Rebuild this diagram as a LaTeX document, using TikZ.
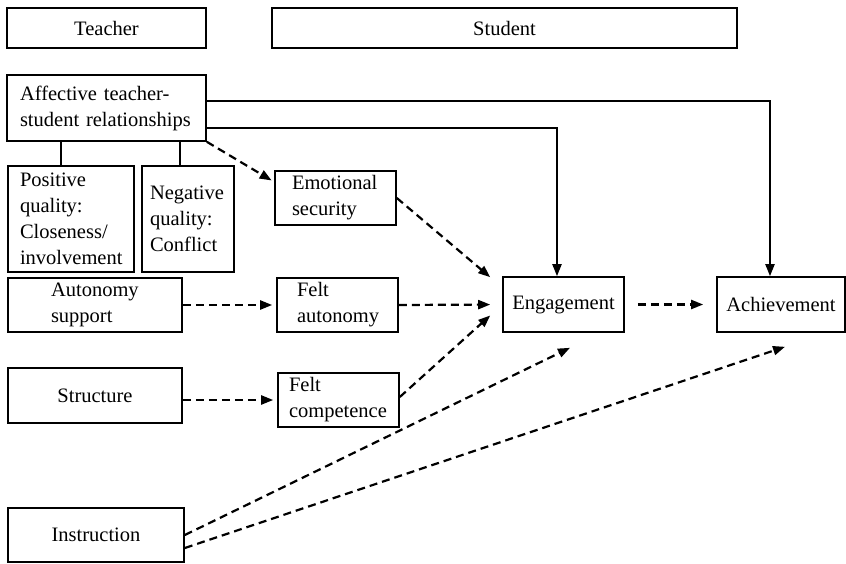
\documentclass[tikz,border=0pt]{standalone}
\usepackage{fontspec}
\setmainfont{Liberation Serif}
\usetikzlibrary{arrows.meta}
\hyphenpenalty=10000
\exhyphenpenalty=10000
\tikzset{
  box/.style={draw, line width=1.6pt, align=left, inner ysep=0pt,
    font=\fontsize{20.5}{26}\selectfont},
  cbox/.style={box, align=center},
  solidarrow/.style={line width=2pt, -{Triangle[length=12pt,width=9pt]}},
  dasharrow/.style={line width=2.2pt, dash pattern=on 8pt off 5pt, -{Triangle[length=12pt,width=9pt]}},
  link/.style={line width=1.6pt}
}
\begin{document}
\begin{tikzpicture}[x=1pt,y=-1pt]
\useasboundingbox (0,0) rectangle (846,564);
\node[cbox, minimum width=199pt, minimum height=40pt, inner xsep=0pt] (teacher) at (106.5,28) {Teacher};
\node[cbox, minimum width=465pt, minimum height=40pt, inner xsep=0pt] (student) at (504.5,28) {Student};
\node[box, inner xsep=13pt, text width=173pt, minimum height=66pt] (aff) at (106.5,108) {Affective teacher-\\student relationships};
\node[box, inner xsep=12pt, text width=102pt, minimum height=106pt] (pos) at (71,219) {Positive\\quality:\\Closeness/\\involvement};
\node[box, inner xsep=8pt, text width=76pt, minimum height=106pt] (neg) at (188,219) {Negative\\quality:\\Conflict};
\node[box, inner xsep=17pt, text width=87pt, minimum height=54pt] (emo) at (335.5,198) {Emotional\\security};
\node[box, inner xsep=43pt, text width=88pt, minimum height=54pt] (autosup) at (95,305) {Autonomy\\support};
\node[box, inner xsep=20pt, text width=81pt, minimum height=54pt] (feltaut) at (337.5,305) {Felt\\autonomy};
\node[cbox, minimum width=174pt, minimum height=55pt, inner xsep=0pt] (struct) at (95,395.5) {Structure};
\node[box, inner xsep=11pt, text width=99pt, minimum height=54pt] (feltcomp) at (338.5,400) {Felt\\competence};
\node[cbox, minimum width=121pt, minimum height=55pt, inner xsep=0pt] (eng) at (563.5,304.5) {Engagement};
\node[cbox, minimum width=128pt, minimum height=55pt, inner xsep=0pt] (ach) at (781,304.5) {Achievement};
\node[cbox, minimum width=176pt, minimum height=54pt, inner xsep=0pt] (instr) at (96,535) {Instruction};
% links to sub-boxes
\draw[link] (aff.south -| pos.north) ++(-10pt,0) coordinate (p1) -- (p1 |- pos.north);
\draw[link] (aff.south -| neg.north) ++(-8pt,0) coordinate (n1) -- (n1 |- neg.north);
% solid arrows
\draw[solidarrow] ([yshift=-27pt]aff.north east) -| ([xshift=-11pt]ach.north);
\draw[solidarrow] ([yshift=-54pt]aff.north east) -| ([xshift=-6.5pt]eng.north);
% dashed arrows
\draw[dasharrow, shorten >=3pt] (aff.south east) -- ([yshift=16pt]emo.west);
\draw[dasharrow] (emo.east) -- ([xshift=-12pt,yshift=-1pt]eng.north west);
\draw[dasharrow, shorten >=4pt] (autosup.east) -- (feltaut.west);
\draw[dasharrow, shorten >=12pt] (feltaut.east) -- (eng.west);
\draw[dasharrow] ([yshift=3pt]feltcomp.east) -- ([xshift=-12pt,yshift=-11pt]eng.west);
\draw[dasharrow, shorten >=4pt] (struct.east |- feltcomp.west) -- (feltcomp.west);
\draw[dasharrow, shorten <=13pt, shorten >=13pt] (eng.east) -- (ach.west);
\draw[dasharrow] (instr.east) -- ([xshift=6.5pt,yshift=-15pt]eng.south);
\draw[dasharrow] ([yshift=-13pt]instr.east) -- ([xshift=4pt,yshift=-14pt]ach.south);
\end{tikzpicture}
\end{document}
